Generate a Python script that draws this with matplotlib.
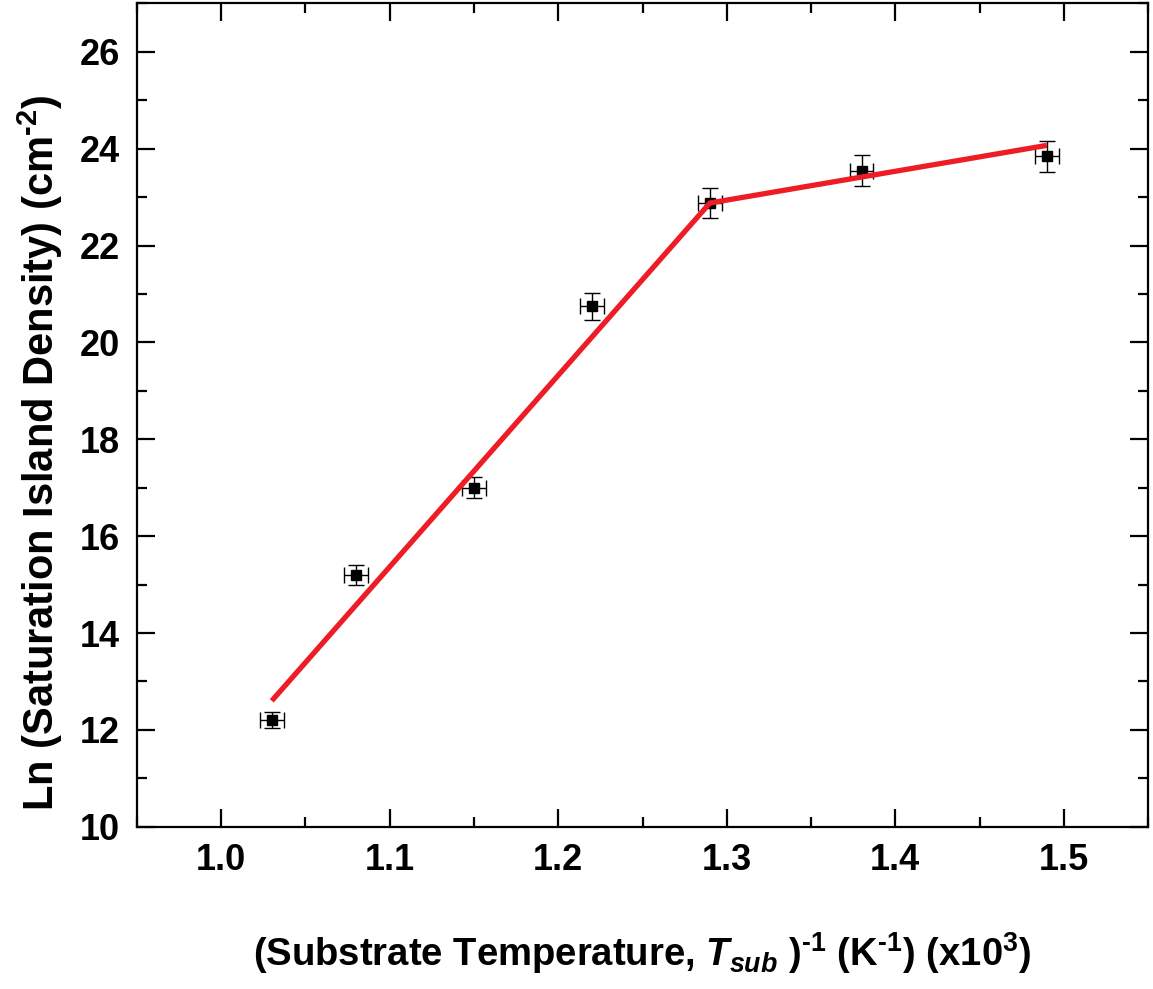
import numpy as np
import matplotlib
matplotlib.use("Agg")
import matplotlib.pyplot as plt
from matplotlib.ticker import MultipleLocator

plt.rcParams['font.family'] = ['Liberation Sans', 'DejaVu Sans']
plt.rcParams['font.weight'] = 'bold'
plt.rcParams['mathtext.fontset'] = 'custom'
plt.rcParams['mathtext.rm'] = 'Liberation Sans:bold'
plt.rcParams['mathtext.it'] = 'Liberation Sans:italic:bold'
plt.rcParams['mathtext.bf'] = 'Liberation Sans:bold'

# данные
x = [1.03, 1.08, 1.15, 1.22, 1.29, 1.38, 1.49]
y = [12.2, 15.2, 17.0, 20.75, 22.88, 23.55, 23.85]
x_err = [0.007, 0.007, 0.007, 0.007, 0.007, 0.007, 0.007]
y_err = [0.17, 0.2, 0.22, 0.28, 0.31, 0.32, 0.32]

# аппроксимация ломаной
fit_x = [1.03, 1.29, 1.49]
fit_y = [12.6, 22.88, 24.07]

fig = plt.figure(figsize=(11.53, 9.89), dpi=100)
ax = fig.add_axes([0.1188, 0.1641, 0.8769, 0.8324])

ax.plot(fit_x, fit_y, color='#ee1c25', lw=3.8, zorder=3, solid_capstyle='butt')
ax.errorbar(x, y, xerr=x_err, yerr=y_err, fmt='s', color='black', ms=6.5,
            elinewidth=1.0, capsize=5.5, capthick=1.0, zorder=2)

ax.set_xlim(0.95, 1.55)
ax.set_ylim(10, 27)
ax.xaxis.set_major_locator(MultipleLocator(0.1))
ax.xaxis.set_minor_locator(MultipleLocator(0.05))
ax.yaxis.set_major_locator(MultipleLocator(2))
ax.yaxis.set_minor_locator(MultipleLocator(1))
ax.xaxis.set_major_formatter(matplotlib.ticker.FormatStrFormatter('%.1f'))

ax.tick_params(which='both', direction='in', top=True, right=True, width=1.6,
               labelsize=26, pad=12)
ax.tick_params(which='major', length=13)
ax.tick_params(which='minor', length=7)
for s in ax.spines.values():
    s.set_linewidth(1.6)

ax.set_xlabel('(Substrate Temperature, $T_{sub}$ )$^{\u20101}$ (K$^{\u20101}$) (x10$^{3}$)',
              fontsize=27.5, fontweight='bold')
ax.set_ylabel('Ln (Saturation Island Density) (cm$^{\u20102}$)', fontsize=30,
              fontweight='bold')
ax.xaxis.set_label_coords(0.5, -0.126)
ax.yaxis.set_label_coords(-0.071, 0.454)

fig.savefig('out.png', dpi=100)
